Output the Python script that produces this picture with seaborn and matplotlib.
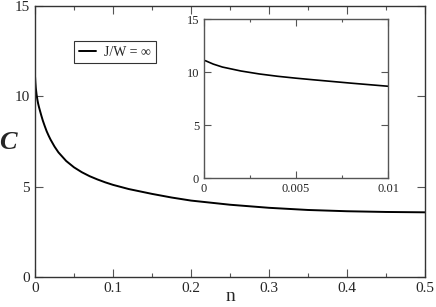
import numpy as np
import pandas as pd
import matplotlib
matplotlib.use("Agg")
import matplotlib.pyplot as plt
from matplotlib.ticker import MultipleLocator
import seaborn as sns

# Curve values
n_vals = [0.0, 0.0001, 0.0005, 0.001, 0.002, 0.003, 0.004, 0.005, 0.006, 0.008,
          0.01, 0.0125, 0.015, 0.0175, 0.02, 0.025, 0.03, 0.04, 0.05, 0.06,
          0.07, 0.08, 0.09, 0.1, 0.12, 0.15, 0.175, 0.2, 0.25, 0.3,
          0.35, 0.4, 0.45, 0.5]
c_vals = [11.1, 11.05, 10.75, 10.47, 10.1, 9.82, 9.6, 9.42, 9.26, 8.95,
          8.66, 8.35, 8.06, 7.82, 7.6, 7.22, 6.9, 6.42, 6.07, 5.8,
          5.58, 5.4, 5.24, 5.1, 4.87, 4.6, 4.4, 4.23, 4.0, 3.83,
          3.71, 3.64, 3.6, 3.58]
legend_label = "J/W = \u221e"

sns.set_style("ticks")
plt.rcParams["font.family"] = ["Liberation Serif", "DejaVu Serif"]
plt.rcParams["mathtext.fontset"] = "stix"

df = pd.DataFrame({"n": n_vals, "C": c_vals})

fig = plt.figure(figsize=(4.36, 3.07), dpi=100)
ax = fig.add_axes([0.0803, 0.0977, 0.8945, 0.8828])
sns.lineplot(data=df, x="n", y="C", ax=ax, color="black", linewidth=1.4,
             label=legend_label)

ax.set_xlim(0, 0.5)
ax.set_ylim(0, 15)
ax.xaxis.set_minor_locator(MultipleLocator(0.05))
ax.yaxis.set_major_locator(MultipleLocator(5))
ax.set_xticks([0, 0.1, 0.2, 0.3, 0.4, 0.5])
ax.set_xticklabels(["0", "0.1", "0.2", "0.3", "0.4", "0.5"])
ax.tick_params(which="both", direction="in", top=True, right=True,
               labelsize=11, width=0.8, color="#555555")
ax.tick_params(which="major", length=6)
ax.tick_params(which="minor", length=3)
for s in ax.spines.values():
    s.set_linewidth(1.0)
    s.set_color("#333333")
ax.set_xlabel("n", fontsize=14)
ax.xaxis.label.set_va("center")
ax.xaxis.set_label_coords(0.5, -0.072)
ax.set_ylabel("C", fontsize=19, fontweight="bold", fontstyle="italic",
              rotation=0)
ax.yaxis.label.set_va("center")
ax.yaxis.label.set_ha("center")
ax.yaxis.set_label_coords(-0.069, 0.495)

leg = ax.legend(loc="upper left", bbox_to_anchor=(0.1, 0.872), fontsize=10,
                frameon=True, fancybox=False, handlelength=1.2,
                borderpad=0.35, handletextpad=0.6, borderaxespad=0)
leg.get_frame().set_edgecolor("black")
leg.get_frame().set_linewidth(0.8)

# Inset
axin = fig.add_axes([0.468, 0.420, 0.422, 0.518])
inset_df = df[df["n"] <= 0.01]
sns.lineplot(data=inset_df, x="n", y="C", ax=axin, color="black", linewidth=1.2)
axin.set_xlim(0, 0.01)
axin.set_ylim(0, 15)
axin.set_xticks([0, 0.005, 0.01])
axin.set_xticklabels(["0", "0.005", "0.01"])
axin.xaxis.set_minor_locator(MultipleLocator(0.0025))
axin.yaxis.set_major_locator(MultipleLocator(5))
axin.tick_params(which="both", direction="in", top=True, right=True,
                 labelsize=9, width=0.8, color="#555555")
axin.tick_params(which="major", length=5)
axin.tick_params(which="minor", length=2.5)
for s in axin.spines.values():
    s.set_linewidth(1.0)
    s.set_color("#555555")
axin.set_xlabel("")
axin.set_ylabel("")

fig.savefig("out.png", dpi=100)
